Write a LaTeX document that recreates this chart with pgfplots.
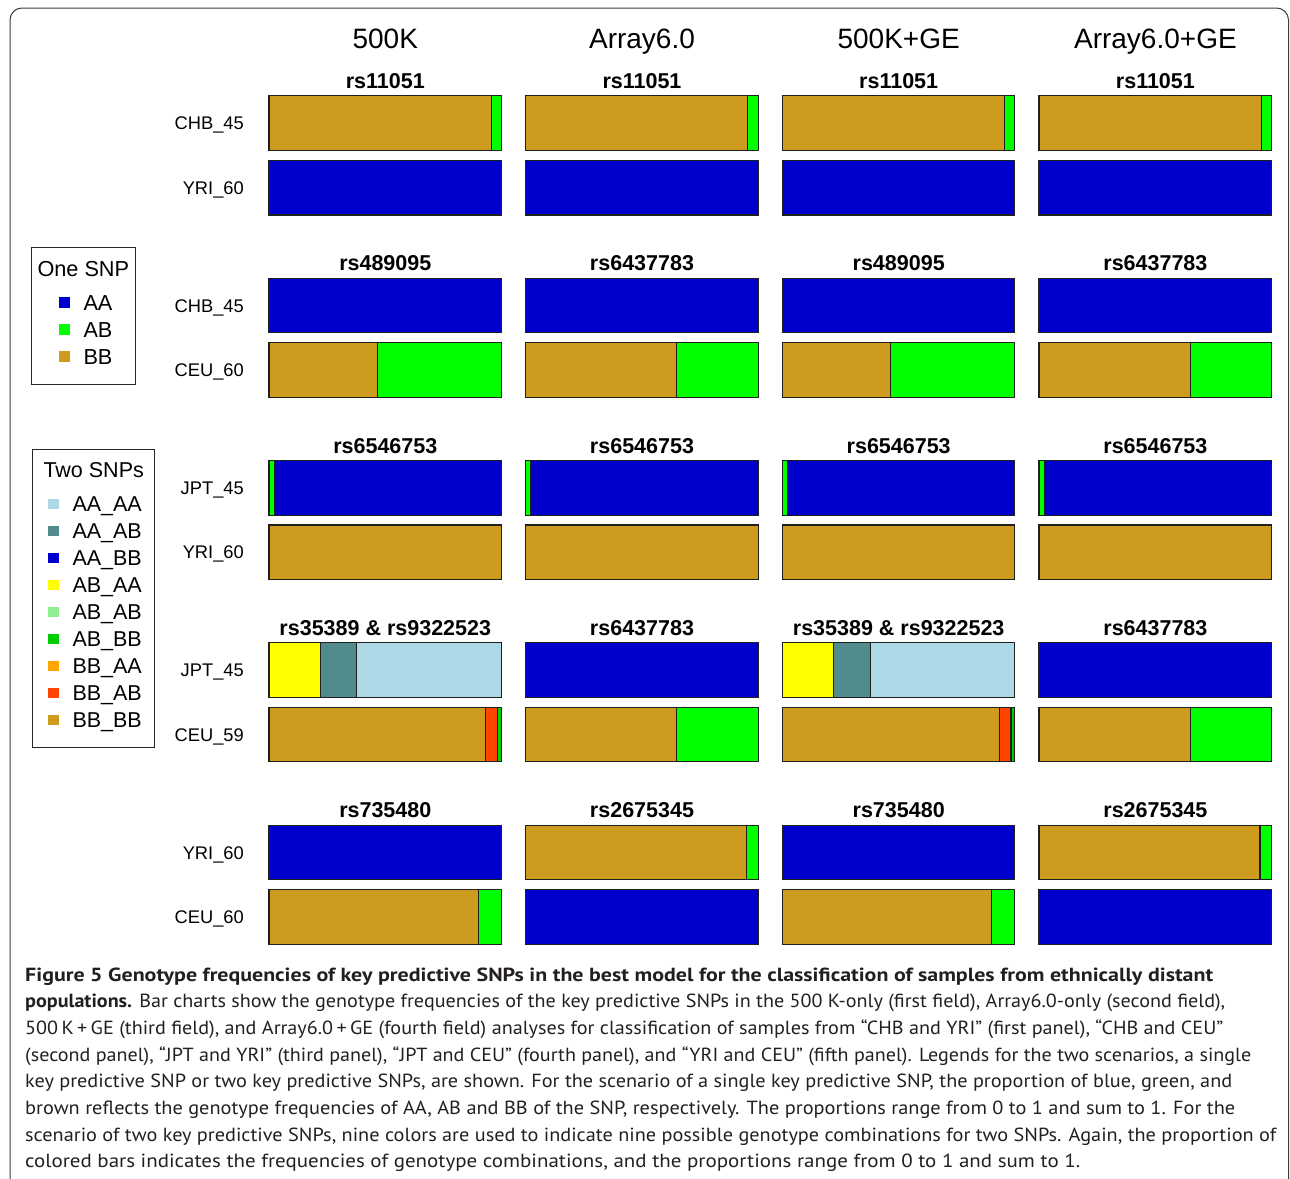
\documentclass[border=0pt]{standalone}
\usepackage{pgfplots}
\pgfplotsset{compat=1.18}
\usepackage{pgfplotstable}
\usepackage{fontspec}
\setmainfont{Liberation Sans}
\newfontfamily\capfont{PT Sans}

% colours of the genotype classes (R palette)
\definecolor{cBB}{HTML}{CD9B1D}
\definecolor{cBBAB}{HTML}{FF4500}
\definecolor{cBBAA}{HTML}{FFA500}
\definecolor{cABBB}{HTML}{00CD00}
\definecolor{cAB}{HTML}{00FF00}
\definecolor{cABAB}{HTML}{90EE90}
\definecolor{cABAA}{HTML}{FFFF00}
\definecolor{cAA}{HTML}{0000CD}
\definecolor{cAAAB}{HTML}{528B8B}
\definecolor{cAAAA}{HTML}{ADD8E6}
\definecolor{captxt}{HTML}{231F20}
\definecolor{frame}{HTML}{3C3C3C}

% y = row centre (px from top); genotype frequencies, left to right
% 500K and 500K+GE fields
\pgfplotstableread{
y     BB    BBAB  ABBB  AB    ABAA  AA    AAAB  AAAA
123.2 0.955 0     0     0.045 0     0     0     0
187.7 0     0     0     0     0     1     0     0
305.5 0     0     0     0     0     1     0     0
370.0 0.467 0     0     0.533 0     0     0     0
487.8 0     0     0     0.022 0     0.978 0     0
552.3 1     0     0     0     0     0     0     0
670.1 0     0     0     0     0.222 0     0.156 0.622
734.6 0.932 0.051 0.017 0     0     0     0     0
852.4 0     0     0     0     0     1     0     0
916.9 0.9   0     0     0.1   0     0     0     0
}\tabK

% Array6.0 and Array6.0+GE fields
\pgfplotstableread{
y     BB    BBAB  ABBB  AB    ABAA  AA    AAAB  AAAA
123.2 0.955 0     0     0.045 0     0     0     0
187.7 0     0     0     0     0     1     0     0
305.5 0     0     0     0     0     1     0     0
370.0 0.65  0     0     0.35  0     0     0     0
487.8 0     0     0     0.022 0     0.978 0     0
552.3 1     0     0     0     0     0     0     0
670.1 0     0     0     0     0     1     0     0
734.6 0.65  0     0     0.35  0     0     0     0
852.4 0.95  0     0     0.05  0     0     0     0
916.9 0     0     0     0     0     1     0     0
}\tabA

\pgfplotsset{snpcol/.style={
  scale only axis, width=232.6pt, height=860pt,
  xmin=0, xmax=1, ymin=90, ymax=950, y dir=reverse,
  axis lines=none, xtick=\empty, ytick=\empty,
  xbar stacked, bar width=54.6, clip=false,
  every axis plot/.append style={draw=black!88, line width=1.1pt},
  anchor=north west}}

\newcommand{\snpbars}[1]{%
  \addplot[fill=cBB]   table[x=BB,  y=y]{#1};
  \addplot[fill=cBBAB] table[x=BBAB,y=y]{#1};
  \addplot[fill=cABBB] table[x=ABBB,y=y]{#1};
  \addplot[fill=cAB]   table[x=AB,  y=y]{#1};
  \addplot[fill=cABAA] table[x=ABAA,y=y]{#1};
  \addplot[fill=cAA]   table[x=AA,  y=y]{#1};
  \addplot[fill=cAAAB] table[x=AAAB,y=y]{#1};
  \addplot[fill=cAAAA] table[x=AAAA,y=y]{#1};
}

\newcommand{\fs}[1]{\fontsize{#1}{#1}\selectfont}
% one caption line, stretched horizontally to the width it has in the figure
\newcommand{\capline}[3]{\node at (25,#1) {\resizebox{#2pt}{\height}{#3}};}

\begin{document}
\begin{tikzpicture}
\path[use as bounding box] (0pt,0pt) rectangle (1290pt,-1178pt);

\begin{axis}[snpcol, at={(269pt,-90pt)}]   \snpbars{\tabK} \end{axis}
\begin{axis}[snpcol, at={(525.7pt,-90pt)}] \snpbars{\tabA} \end{axis}
\begin{axis}[snpcol, at={(782.3pt,-90pt)}] \snpbars{\tabK} \end{axis}
\begin{axis}[snpcol, at={(1039pt,-90pt)}]  \snpbars{\tabA} \end{axis}

\begin{scope}[x=1pt, y=-1pt]
% outer frame
\draw[frame, line width=1pt, rounded corners=12pt]
  (10,1200) -- (10,8) -- (1288.5,8) -- (1288.5,1200);

% field headers
\foreach \cx/\t in {385.3/500K, 642/Array6.0, 898.7/500K+GE, 1155.4/Array6.0+GE}
  \node[anchor=base, inner sep=0, font=\fs{28}] at (\cx,48.5) {\t};

% SNP titles
\foreach \by/\ta/\tb in {88.3/rs11051/rs11051, 270.6/rs489095/rs6437783,
    453.3/rs6546753/rs6546753, 635.3/rs35389 \& rs9322523/rs6437783,
    817.6/rs735480/rs2675345} {
  \node[anchor=base, inner sep=0, font=\fs{21.5}\bfseries] at (385.3,\by) {\ta};
  \node[anchor=base, inner sep=0, font=\fs{21.5}\bfseries] at (642,\by) {\tb};
  \node[anchor=base, inner sep=0, font=\fs{21.5}\bfseries] at (898.7,\by) {\ta};
  \node[anchor=base, inner sep=0, font=\fs{21.5}\bfseries] at (1155.4,\by) {\tb};
}

% population labels
\foreach \ry/\t in {123.2/CHB\_45, 187.7/YRI\_60, 305.5/CHB\_45, 370.0/CEU\_60,
    487.8/JPT\_45, 552.3/YRI\_60, 670.1/JPT\_45, 734.6/CEU\_59,
    852.4/YRI\_60, 916.9/CEU\_60}
  \node[anchor=base east, inner sep=0, font=\fs{18.3}] at (244,\ry+6.6) {\t};

% legend: one SNP
\draw[black!85, line width=1pt] (31.7,247.3) rectangle (135.7,384);
\node[anchor=base west, inner sep=0, font=\fs{21.7}] at (37.3,276) {One SNP};
\foreach \k/\c/\t in {0/cAA/AA, 1/cAB/AB, 2/cBB/BB} {
  \fill[\c] (59.2,302.3+27*\k-5.1) rectangle ++(10.3,10.3);
  \node[anchor=base west, inner sep=0, font=\fs{21.7}] at (83.3,302.3+27*\k+7.8) {\t};
}

% legend: two SNPs
\draw[black!85, line width=1pt] (32.3,449.3) rectangle (154,747.3);
\node[anchor=base west, inner sep=0, font=\fs{21.5}] at (43.3,477.5) {Two SNPs};
\foreach \k/\c/\t in {0/cAAAA/AA\_AA, 1/cAAAB/AA\_AB, 2/cAA/AA\_BB,
    3/cABAA/AB\_AA, 4/cABAB/AB\_AB, 5/cABBB/AB\_BB,
    6/cBBAA/BB\_AA, 7/cBBAB/BB\_AB, 8/cBB/BB\_BB} {
  \fill[\c] (48.2,504+27*\k-5.1) rectangle ++(10.3,10.3);
  \node[anchor=base west, inner sep=0, font=\fs{21.5}] at (72.3,504+27*\k+7.8) {\t};
}

% caption
\begin{scope}[every node/.style={anchor=base west, inner sep=0,
    font=\capfont\fs{19}, text=captxt}]
\capline{981}{1188}{\bfseries Figure 5 Genotype frequencies of key predictive SNPs in the best model for the classification of samples from ethnically distant}
\capline{1007.7}{1200}{\textbf{populations.} Bar charts show the genotype frequencies of the key predictive SNPs in the 500 K-only (first field), Array6.0-only (second field),}
\capline{1034.4}{1198}{500\,K\,+\,GE (third field), and Array6.0\,+\,GE (fourth field) analyses for classification of samples from “CHB and YRI” (first panel), “CHB and CEU”}
\capline{1061.1}{1226}{(second panel), “JPT and YRI” (third panel), “JPT and CEU” (fourth panel), and “YRI and CEU” (fifth panel). Legends for the two scenarios, a single}
\capline{1087.8}{1207}{key predictive SNP or two key predictive SNPs, are shown. For the scenario of a single key predictive SNP, the proportion of blue, green, and}
\capline{1114.5}{1210}{brown reflects the genotype frequencies of AA, AB and BB of the SNP, respectively. The proportions range from 0 to 1 and sum to 1. For the}
\capline{1141.2}{1251}{scenario of two key predictive SNPs, nine colors are used to indicate nine possible genotype combinations for two SNPs. Again, the proportion of}
\capline{1167.9}{1055}{colored bars indicates the frequencies of genotype combinations, and the proportions range from 0 to 1 and sum to 1.}
\end{scope}
\end{scope}
\end{tikzpicture}
\end{document}
